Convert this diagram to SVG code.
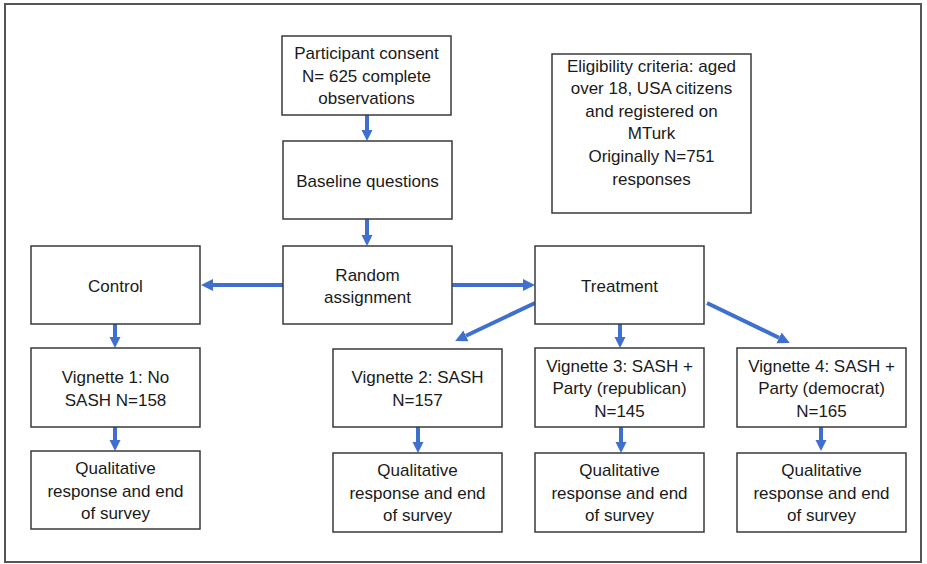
<svg xmlns="http://www.w3.org/2000/svg" width="927" height="564" viewBox="0 0 927 564">
<defs>
<style>
.box{fill:#fff;stroke:#3a3a3a;stroke-width:1.5}
.t{font-family:"Liberation Sans",Arial,sans-serif;font-size:17px;fill:#1a1a1a;text-anchor:middle}
.c{stroke:#3f6fcf;stroke-width:4;fill:none;marker-end:url(#ah)}
.h{stroke:#3f6fcf;stroke-width:4;fill:none;marker-end:url(#ahl)}
</style>
<marker id="ah" viewBox="0 0 10 10" refX="0" refY="5" markerWidth="11" markerHeight="13" markerUnits="userSpaceOnUse" orient="auto">
<path d="M0,0 L10,5 L0,10 z" fill="#3f6fcf"/>
</marker>
<marker id="ahl" viewBox="0 0 10 10" refX="0" refY="5" markerWidth="12" markerHeight="14" markerUnits="userSpaceOnUse" orient="auto">
<path d="M0,0 L10,5 L0,10 z" fill="#3f6fcf"/>
</marker>
</defs>
<rect x="0" y="0" width="927" height="564" fill="#fff"/>
<rect x="5" y="4" width="916" height="558" fill="none" stroke="#555" stroke-width="2"/>
<g id="connectors">
<line class="c" x1="367" y1="115" x2="367" y2="130"/>
<line class="c" x1="367" y1="219" x2="367" y2="235"/>
<line class="h" x1="283" y1="285" x2="213" y2="285"/>
<line class="h" x1="452" y1="285" x2="523" y2="285"/>
<line class="c" x1="115" y1="324" x2="115" y2="337"/>
<line class="c" x1="115" y1="427" x2="115" y2="440"/>
<line class="h" x1="535" y1="303" x2="466" y2="335.8"/>
<line class="c" x1="418" y1="427" x2="418" y2="442"/>
<line class="c" x1="620" y1="324" x2="620" y2="337"/>
<line class="c" x1="621" y1="427" x2="621" y2="442"/>
<line class="h" x1="707" y1="303" x2="779" y2="337.8"/>
<line class="c" x1="821" y1="427" x2="821" y2="440"/>
</g>
<g id="consent">
<rect class="box" x="282" y="36" width="169" height="79"/>
<text class="t" x="366.5" y="59">Participant consent</text>
<text class="t" x="366.5" y="82">N= 625 complete</text>
<text class="t" x="366.5" y="104">observations</text>
</g>
<g id="eligibility">
<rect class="box" x="552" y="54" width="199" height="159"/>
<text class="t" x="651.5" y="72">Eligibility criteria: aged</text>
<text class="t" x="651.5" y="94">over 18, USA citizens</text>
<text class="t" x="651.5" y="117">and registered on</text>
<text class="t" x="651.5" y="139">MTurk</text>
<text class="t" x="651.5" y="162">Originally N=751</text>
<text class="t" x="651.5" y="185">responses</text>
</g>
<g id="baseline">
<rect class="box" x="283" y="141" width="169" height="78"/>
<text class="t" x="367.5" y="187">Baseline questions</text>
</g>
<g id="random">
<rect class="box" x="283" y="246" width="169" height="78"/>
<text class="t" x="367.5" y="281">Random</text>
<text class="t" x="367.5" y="303">assignment</text>
</g>
<g id="control">
<rect class="box" x="31" y="246" width="169" height="78"/>
<text class="t" x="115.5" y="292">Control</text>
</g>
<g id="treatment">
<rect class="box" x="535" y="246" width="169" height="78"/>
<text class="t" x="619.5" y="292">Treatment</text>
</g>
<g id="vignette1">
<rect class="box" x="31" y="348" width="169" height="79"/>
<text class="t" x="115.5" y="383">Vignette 1: No</text>
<text class="t" x="115.5" y="406">SASH N=158</text>
</g>
<g id="vignette2">
<rect class="box" x="333" y="349" width="169" height="78"/>
<text class="t" x="417.5" y="383">Vignette 2: SASH</text>
<text class="t" x="417.5" y="406">N=157</text>
</g>
<g id="vignette3">
<rect class="box" x="535" y="348" width="169" height="79"/>
<text class="t" x="619.5" y="372">Vignette 3: SASH +</text>
<text class="t" x="619.5" y="394">Party (republican)</text>
<text class="t" x="619.5" y="417">N=145</text>
</g>
<g id="vignette4">
<rect class="box" x="737" y="348" width="169" height="79"/>
<text class="t" x="821.5" y="372">Vignette 4: SASH +</text>
<text class="t" x="821.5" y="394">Party (democrat)</text>
<text class="t" x="821.5" y="417">N=165</text>
</g>
<g id="qual1">
<rect class="box" x="31" y="451" width="169" height="78"/>
<text class="t" x="115.5" y="474">Qualitative</text>
<text class="t" x="115.5" y="497">response and end</text>
<text class="t" x="115.5" y="519">of survey</text>
</g>
<g id="qual2">
<rect class="box" x="333" y="453" width="169" height="79"/>
<text class="t" x="417.5" y="476">Qualitative</text>
<text class="t" x="417.5" y="499">response and end</text>
<text class="t" x="417.5" y="521">of survey</text>
</g>
<g id="qual3">
<rect class="box" x="535" y="453" width="169" height="79"/>
<text class="t" x="619.5" y="476">Qualitative</text>
<text class="t" x="619.5" y="499">response and end</text>
<text class="t" x="619.5" y="521">of survey</text>
</g>
<g id="qual4">
<rect class="box" x="737" y="453" width="169" height="79"/>
<text class="t" x="821.5" y="476">Qualitative</text>
<text class="t" x="821.5" y="499">response and end</text>
<text class="t" x="821.5" y="521">of survey</text>
</g>
</svg>
